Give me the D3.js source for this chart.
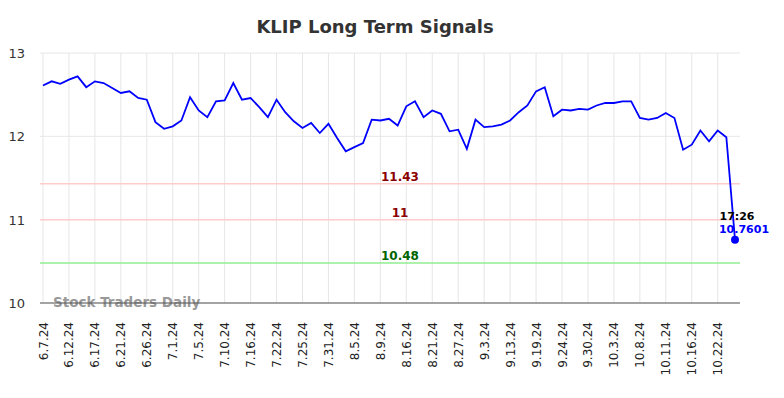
<!DOCTYPE html>
<html>
<head>
<meta charset="utf-8">
<script src="https://cdn.jsdelivr.net/npm/d3@7/dist/d3.min.js"></script>
<style>
  body { margin: 0; background: #fff; }
  text { font-family: "DejaVu Sans", sans-serif; }
</style>
</head>
<body>
<svg id="chart" width="784" height="398"></svg>
<script>
const tickLabels = ['6.7.24', '6.12.24', '6.17.24', '6.21.24', '6.26.24', '7.1.24', '7.5.24',
  '7.10.24', '7.16.24', '7.22.24', '7.25.24', '7.31.24', '8.5.24', '8.9.24', '8.16.24',
  '8.21.24', '8.27.24', '9.3.24', '9.13.24', '9.19.24', '9.24.24', '9.30.24', '10.3.24',
  '10.8.24', '10.11.24', '10.16.24', '10.22.24'];

const prices = [
  12.61, 12.66, 12.63, 12.68, 12.72, 12.59, 12.66, 12.64, 12.58, 12.52,
  12.54, 12.46, 12.44, 12.17, 12.09, 12.12, 12.19, 12.47, 12.31, 12.23,
  12.42, 12.43, 12.64, 12.44, 12.46, 12.35, 12.23, 12.44, 12.29, 12.18,
  12.10, 12.16, 12.04, 12.15, 11.98, 11.82, 11.87, 11.92, 12.20, 12.19,
  12.21, 12.13, 12.36, 12.42, 12.23, 12.31, 12.27, 12.06, 12.08, 11.85,
  12.20, 12.11, 12.12, 12.14, 12.19, 12.29, 12.37, 12.54, 12.59, 12.24,
  12.32, 12.31, 12.33, 12.32, 12.37, 12.40, 12.40, 12.42, 12.42, 12.22,
  12.20, 12.22, 12.28, 12.22, 11.84, 11.90, 12.07, 11.94, 12.07, 11.99,
  10.7601
];

const levels = [
  { value: 11.43, label: '11.43', line: '#ffcccc', color: '#8b0000' },
  { value: 11, label: '11', line: '#ffcccc', color: '#8b0000' },
  { value: 10.48, label: '10.48', line: '#90ee90', color: '#006400' }
];

const yTicks = [10, 11, 12, 13];
const lastTime = '17:26';

const svg = d3.select('#chart');
const margin = { top: 53, right: 44, bottom: 95, left: 40 };
const width = 784, height = 398;

const x = d3.scaleLinear()
  .domain([0, prices.length - 1])
  .range([43, 735]);
const y = d3.scaleLinear()
  .domain([10, 13])
  .range([height - margin.bottom, margin.top]);

const left = margin.left, right = width - margin.right;

// title
svg.append('text')
  .attr('x', 375).attr('y', 33)
  .attr('text-anchor', 'middle')
  .style('font-size', '18px').style('font-weight', 'bold').style('fill', '#333')
  .text('KLIP Long Term Signals');

// grid
svg.append('g').selectAll('line')
  .data(yTicks)
  .enter().append('line')
  .attr('x1', left).attr('x2', right)
  .attr('y1', d => y(d)).attr('y2', d => y(d))
  .style('stroke', '#e6e6e6');

svg.append('g').selectAll('line')
  .data(tickLabels)
  .enter().append('line')
  .attr('x1', (d, i) => x(i * 3)).attr('x2', (d, i) => x(i * 3))
  .attr('y1', y(13)).attr('y2', y(10))
  .style('stroke', '#e6e6e6');

// y labels
svg.append('g').selectAll('text')
  .data(yTicks)
  .enter().append('text')
  .attr('x', 25).attr('y', d => y(d) + 5)
  .attr('text-anchor', 'end')
  .style('font-size', '13px').style('fill', '#333')
  .text(d => d);

// level lines
const lv = svg.append('g').selectAll('g')
  .data(levels)
  .enter().append('g');
lv.append('line')
  .attr('x1', left).attr('x2', right)
  .attr('y1', d => y(d.value)).attr('y2', d => y(d.value))
  .style('stroke', d => d.line).style('stroke-width', 1.5);
lv.append('text')
  .attr('x', 400).attr('y', d => y(d.value) - 3)
  .attr('text-anchor', 'middle')
  .style('font-size', '12px').style('font-weight', 'bold')
  .style('fill', d => d.color)
  .text(d => d.label);

// watermark
svg.append('text')
  .attr('x', 53).attr('y', y(10) + 4)
  .style('font-size', '13.5px').style('font-weight', 'bold').style('fill', '#999')
  .text('Stock Traders Daily');

// x axis line
svg.append('line')
  .attr('x1', left).attr('x2', right)
  .attr('y1', y(10)).attr('y2', y(10))
  .style('stroke', '#555').style('stroke-width', 1);

// x labels
svg.append('g').selectAll('text')
  .data(tickLabels)
  .enter().append('text')
  .attr('transform', (d, i) => 'translate(' + [x(i * 3) + 4.5, y(10) + 19] + ') rotate(-90)')
  .attr('text-anchor', 'end')
  .style('font-size', '12px').style('fill', '#222')
  .text(d => d);

// price line
const line = d3.line()
  .x((d, i) => x(i))
  .y(d => y(d));
svg.append('path')
  .datum(prices)
  .attr('d', line)
  .style('fill', 'none').style('stroke', '#0000ff').style('stroke-width', 1.8);

// last point
const li = prices.length - 1;
svg.append('circle')
  .attr('cx', x(li)).attr('cy', y(prices[li]))
  .attr('r', 4).style('fill', '#0000ff');
svg.append('text')
  .attr('x', x(li) + 2).attr('y', y(prices[li]) - 20)
  .attr('text-anchor', 'middle')
  .style('font-size', '11px').style('font-weight', 'bold').style('fill', '#000')
  .text(lastTime);
svg.append('text')
  .attr('x', x(li) + 9).attr('y', y(prices[li]) - 7)
  .attr('text-anchor', 'middle')
  .style('font-size', '11px').style('font-weight', 'bold').style('fill', '#0000ff')
  .text(prices[li]);
</script>
</body>
</html>
